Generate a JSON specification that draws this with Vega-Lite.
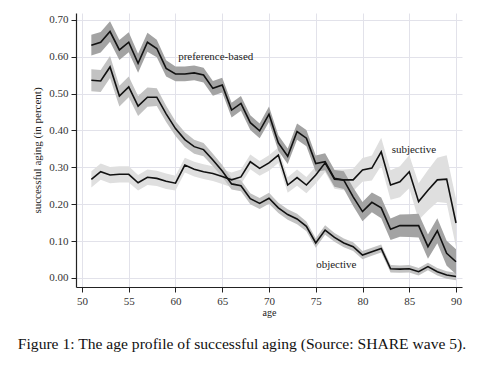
{
  "$schema": "https://vega.github.io/schema/vega-lite/v6.json",
  "autosize": "none",
  "width": 386,
  "height": 274,
  "padding": {"left": 76, "top": 13, "right": 21, "bottom": 78},
  "background": "white",
  "config": {
    "font": "Liberation Serif",
    "view": {"stroke": null},
    "axis": {
      "labelFont": "Liberation Serif",
      "titleFont": "Liberation Serif",
      "labelFontSize": 11,
      "titleFontSize": 10,
      "titleFontWeight": "normal",
      "labelColor": "#333333",
      "titleColor": "#222222",
      "domainColor": "#222222",
      "domainWidth": 1.2,
      "tickColor": "#222222",
      "tickSize": 5,
      "gridColor": "#e2e2ea",
      "gridWidth": 1
    },
    "axisY": {
      "values": [0, 0.1, 0.2, 0.3, 0.4, 0.5, 0.6, 0.7],
      "tickCount": 8,
      "labelOverlap": false,
      "format": ".2f",
      "titlePadding": 6,
      "labelPadding": 3,
      "titleFontSize": 11
    }
  },
  "title": {
    "text": "Figure 1: The age profile of successful aging (Source: SHARE wave 5).",
    "orient": "bottom",
    "anchor": "middle",
    "dx": -27,
    "offset": 20,
    "font": "Liberation Serif",
    "fontSize": 15.6,
    "fontWeight": "normal",
    "color": "#111111"
  },
  "datasets": {
    "series": [
      {"age":51,"p":0.631,"pl":0.603,"ph":0.659,"o":0.536,"ol":0.506,"oh":0.566,"s":0.267,"sl":0.245,"sh":0.289},
      {"age":52,"p":0.639,"pl":0.611,"ph":0.667,"o":0.534,"ol":0.504,"oh":0.564,"s":0.288,"sl":0.266,"sh":0.310},
      {"age":53,"p":0.668,"pl":0.640,"ph":0.696,"o":0.572,"ol":0.542,"oh":0.602,"s":0.279,"sl":0.257,"sh":0.301},
      {"age":54,"p":0.618,"pl":0.591,"ph":0.645,"o":0.493,"ol":0.465,"oh":0.521,"s":0.281,"sl":0.259,"sh":0.303},
      {"age":55,"p":0.639,"pl":0.612,"ph":0.666,"o":0.518,"ol":0.490,"oh":0.546,"s":0.281,"sl":0.259,"sh":0.303},
      {"age":56,"p":0.582,"pl":0.556,"ph":0.608,"o":0.466,"ol":0.439,"oh":0.493,"s":0.258,"sl":0.237,"sh":0.279},
      {"age":57,"p":0.639,"pl":0.613,"ph":0.665,"o":0.490,"ol":0.464,"oh":0.516,"s":0.273,"sl":0.252,"sh":0.294},
      {"age":58,"p":0.622,"pl":0.598,"ph":0.646,"o":0.490,"ol":0.466,"oh":0.514,"s":0.270,"sl":0.249,"sh":0.291},
      {"age":59,"p":0.568,"pl":0.546,"ph":0.590,"o":0.445,"ol":0.423,"oh":0.467,"s":0.262,"sl":0.241,"sh":0.283},
      {"age":60,"p":0.553,"pl":0.533,"ph":0.573,"o":0.405,"ol":0.385,"oh":0.425,"s":0.257,"sl":0.237,"sh":0.277},
      {"age":61,"p":0.553,"pl":0.533,"ph":0.573,"o":0.375,"ol":0.355,"oh":0.395,"s":0.306,"sl":0.286,"sh":0.326},
      {"age":62,"p":0.556,"pl":0.536,"ph":0.576,"o":0.356,"ol":0.337,"oh":0.375,"s":0.295,"sl":0.275,"sh":0.315},
      {"age":63,"p":0.550,"pl":0.530,"ph":0.570,"o":0.348,"ol":0.330,"oh":0.366,"s":0.288,"sl":0.268,"sh":0.308},
      {"age":64,"p":0.514,"pl":0.494,"ph":0.534,"o":0.320,"ol":0.303,"oh":0.337,"s":0.283,"sl":0.263,"sh":0.303},
      {"age":65,"p":0.523,"pl":0.503,"ph":0.543,"o":0.290,"ol":0.274,"oh":0.306,"s":0.275,"sl":0.255,"sh":0.295},
      {"age":66,"p":0.455,"pl":0.435,"ph":0.475,"o":0.255,"ol":0.240,"oh":0.270,"s":0.266,"sl":0.246,"sh":0.286},
      {"age":67,"p":0.473,"pl":0.453,"ph":0.493,"o":0.250,"ol":0.235,"oh":0.265,"s":0.274,"sl":0.254,"sh":0.294},
      {"age":68,"p":0.421,"pl":0.401,"ph":0.441,"o":0.215,"ol":0.200,"oh":0.230,"s":0.315,"sl":0.295,"sh":0.335},
      {"age":69,"p":0.399,"pl":0.379,"ph":0.419,"o":0.202,"ol":0.187,"oh":0.217,"s":0.297,"sl":0.277,"sh":0.317},
      {"age":70,"p":0.444,"pl":0.423,"ph":0.465,"o":0.216,"ol":0.201,"oh":0.231,"s":0.312,"sl":0.291,"sh":0.333},
      {"age":71,"p":0.366,"pl":0.345,"ph":0.387,"o":0.190,"ol":0.176,"oh":0.204,"s":0.333,"sl":0.312,"sh":0.354},
      {"age":72,"p":0.330,"pl":0.309,"ph":0.351,"o":0.172,"ol":0.158,"oh":0.186,"s":0.252,"sl":0.231,"sh":0.273},
      {"age":73,"p":0.397,"pl":0.375,"ph":0.419,"o":0.160,"ol":0.146,"oh":0.174,"s":0.272,"sl":0.250,"sh":0.294},
      {"age":74,"p":0.379,"pl":0.357,"ph":0.401,"o":0.140,"ol":0.127,"oh":0.153,"s":0.252,"sl":0.230,"sh":0.274},
      {"age":75,"p":0.310,"pl":0.288,"ph":0.332,"o":0.095,"ol":0.082,"oh":0.108,"s":0.279,"sl":0.256,"sh":0.302},
      {"age":76,"p":0.315,"pl":0.292,"ph":0.338,"o":0.130,"ol":0.117,"oh":0.143,"s":0.312,"sl":0.287,"sh":0.337},
      {"age":77,"p":0.270,"pl":0.247,"ph":0.293,"o":0.110,"ol":0.098,"oh":0.122,"s":0.268,"sl":0.242,"sh":0.294},
      {"age":78,"p":0.265,"pl":0.241,"ph":0.289,"o":0.095,"ol":0.083,"oh":0.107,"s":0.266,"sl":0.238,"sh":0.294},
      {"age":79,"p":0.220,"pl":0.195,"ph":0.245,"o":0.085,"ol":0.073,"oh":0.097,"s":0.266,"sl":0.236,"sh":0.296},
      {"age":80,"p":0.180,"pl":0.154,"ph":0.206,"o":0.062,"ol":0.051,"oh":0.073,"s":0.293,"sl":0.261,"sh":0.325},
      {"age":81,"p":0.205,"pl":0.178,"ph":0.232,"o":0.071,"ol":0.060,"oh":0.082,"s":0.298,"sl":0.264,"sh":0.332},
      {"age":82,"p":0.190,"pl":0.162,"ph":0.218,"o":0.080,"ol":0.069,"oh":0.091,"s":0.342,"sl":0.304,"sh":0.380},
      {"age":83,"p":0.132,"pl":0.103,"ph":0.161,"o":0.025,"ol":0.015,"oh":0.035,"s":0.252,"sl":0.212,"sh":0.292},
      {"age":84,"p":0.142,"pl":0.112,"ph":0.172,"o":0.024,"ol":0.014,"oh":0.034,"s":0.261,"sl":0.219,"sh":0.303},
      {"age":85,"p":0.142,"pl":0.111,"ph":0.173,"o":0.025,"ol":0.015,"oh":0.035,"s":0.288,"sl":0.243,"sh":0.333},
      {"age":86,"p":0.142,"pl":0.110,"ph":0.174,"o":0.017,"ol":0.007,"oh":0.027,"s":0.207,"sl":0.157,"sh":0.257},
      {"age":87,"p":0.085,"pl":0.052,"ph":0.118,"o":0.031,"ol":0.021,"oh":0.041,"s":0.238,"sl":0.183,"sh":0.293},
      {"age":88,"p":0.128,"pl":0.094,"ph":0.162,"o":0.017,"ol":0.007,"oh":0.027,"s":0.266,"sl":0.206,"sh":0.326},
      {"age":89,"p":0.067,"pl":0.033,"ph":0.101,"o":0.008,"ol":-0.002,"oh":0.018,"s":0.268,"sl":0.203,"sh":0.333},
      {"age":90,"p":0.044,"pl":0.010,"ph":0.078,"o":0.004,"ol":-0.006,"oh":0.014,"s":0.149,"sl":0.084,"sh":0.214}
    ],
    "labels": [
      {"age":64.3,"v":0.600,"label":"preference-based"},
      {"age":85.5,"v":0.347,"label":"subjective"},
      {"age":77.2,"v":0.035,"label":"objective"}
    ]
  },
  "data": {"name": "series"},
  "encoding": {
    "x": {
      "field": "age", "type": "quantitative",
      "scale": {"domain": [49.36, 90.64], "nice": false, "zero": false},
      "axis": {"title": "age", "values": [50,55,60,65,70,75,80,85,90], "titlePadding": 1, "labelPadding": 3, "labelOverlap": false}
    }
  },
  "layer": [
    {
      "mark": {"type": "area", "color": "#dfdfdf", "opacity": 1},
      "encoding": {
        "y": {
          "field": "sl", "type": "quantitative",
          "scale": {"domain": [-0.0244, 0.7182], "nice": false, "zero": false},
          "title": "successful aging (in percent)"
        },
        "y2": {"field": "sh"}
      }
    },
    {
      "mark": {"type": "area", "color": "#c2c2c2", "opacity": 1},
      "encoding": {"y": {"field": "ol", "type": "quantitative", "title": "successful aging (in percent)"}, "y2": {"field": "oh"}}
    },
    {
      "mark": {"type": "area", "color": "#a3a3a3", "opacity": 1},
      "encoding": {"y": {"field": "pl", "type": "quantitative", "title": "successful aging (in percent)"}, "y2": {"field": "ph"}}
    },
    {
      "mark": {"type": "line", "color": "#111111", "strokeWidth": 1.6},
      "encoding": {"y": {"field": "s", "type": "quantitative", "title": "successful aging (in percent)"}}
    },
    {
      "mark": {"type": "line", "color": "#111111", "strokeWidth": 1.6},
      "encoding": {"y": {"field": "o", "type": "quantitative", "title": "successful aging (in percent)"}}
    },
    {
      "mark": {"type": "line", "color": "#111111", "strokeWidth": 1.6},
      "encoding": {"y": {"field": "p", "type": "quantitative", "title": "successful aging (in percent)"}}
    },
    {
      "data": {"name": "labels"},
      "mark": {"type": "text", "font": "Liberation Serif", "fontSize": 11, "color": "#222222", "baseline": "middle", "align": "center"},
      "encoding": {
        "y": {"field": "v", "type": "quantitative", "title": "successful aging (in percent)"},
        "text": {"field": "label"}
      }
    }
  ]
}
